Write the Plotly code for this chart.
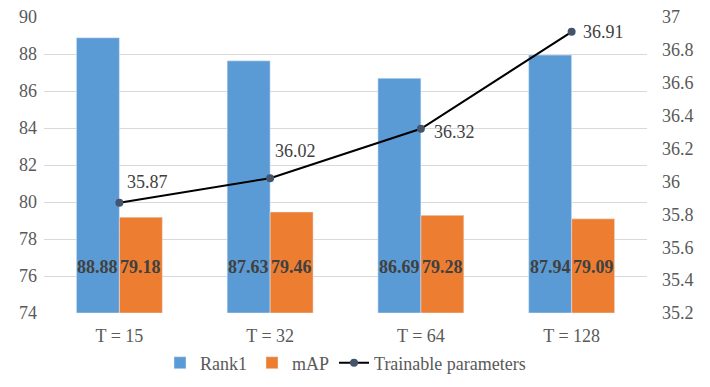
import plotly.graph_objects as go

# data
cats = ['T = 15', 'T = 32', 'T = 64', 'T = 128']
rank1 = [88.88, 87.63, 86.69, 87.94]
mAP = [79.18, 79.46, 79.28, 79.09]
params = [35.87, 36.02, 36.32, 36.91]

font = 'Liberation Serif'
y_min = 74
label_y = 76.5   # where the inside-base labels sit
# offsets of the line labels (px), like the Excel label placement
lab_dx = [6, 3, 11, 9]
lab_dy = [21, 27, -3, 0]

fig = go.Figure()
fig.add_trace(go.Bar(x=cats, y=[v - y_min for v in rank1], base=y_min, name='Rank1',
                     marker=dict(color='#5B9BD5'), customdata=rank1,
                     hovertemplate='%{customdata}<extra>Rank1</extra>'))
fig.add_trace(go.Bar(x=cats, y=[v - y_min for v in mAP], base=y_min, name='mAP',
                     marker=dict(color='#ED7D31'), customdata=mAP,
                     hovertemplate='%{customdata}<extra>mAP</extra>'))
fig.add_trace(go.Scatter(x=cats, y=params, name='Trainable parameters', yaxis='y2',
                         mode='lines+markers',
                         line=dict(color='black', width=2),
                         marker=dict(color='#44546A', size=8)))

# bar value labels (inside base, bold)
for c, r, m in zip(cats, rank1, mAP):
    for val, dx in ((r, -21.5), (m, 21.5)):
        fig.add_annotation(x=c, y=label_y, text='<b>%.2f</b>' % val, showarrow=False,
                           xshift=dx, font=dict(family=font, size=18, color='#404040'))

# line value labels
for c, p, dx, dy in zip(cats, params, lab_dx, lab_dy):
    fig.add_annotation(x=c, y=p, yref='y2', text='%.2f' % p, showarrow=False,
                       xanchor='left', yanchor='middle', xshift=dx, yshift=dy,
                       font=dict(family=font, size=18, color='#404040'))

tick_font = dict(family=font, size=18, color='#595959')
fig.update_layout(
    width=710, height=387,
    margin=dict(l=44, r=63, t=17, b=74, autoexpand=False),
    paper_bgcolor='white', plot_bgcolor='white',
    font=tick_font,
    barmode='group', bargap=0.43, bargroupgap=0,
    showlegend=True,
    legend=dict(orientation='h', x=0.5, xanchor='center', y=-0.169, yanchor='middle',
                font=dict(family=font, size=18, color='#595959'), itemwidth=30),
    xaxis=dict(showgrid=False, showline=False, ticks='', ticklabelstandoff=10,
               tickfont=tick_font),
    yaxis=dict(range=[74, 90], dtick=2, showgrid=True, gridcolor='#D9D9D9',
               gridwidth=1, zeroline=False, ticks='', ticklabelstandoff=6,
               tickfont=tick_font),
    yaxis2=dict(range=[35.2, 37], dtick=0.2, overlaying='y', side='right',
                showgrid=False, zeroline=False, ticks='', ticklabelstandoff=14,
                tickformat='~g', tickfont=tick_font),
)

fig.write_html('out.html', config={'displayModeBar': False},
               post_script="document.body.style.margin='0';")
